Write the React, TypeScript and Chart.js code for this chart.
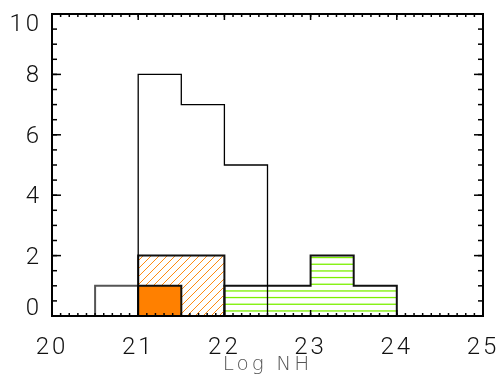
import React, { useEffect, useRef } from 'react';
import { Chart, registerables } from 'chart.js';

Chart.register(...registerables);

// ---- axis ranges & ticks ----
const X_RANGE = [20, 25];
const Y_RANGE = [0, 10];
const X_MAJOR_STEP = 1;
const X_MINOR_STEP = 0.1;
const Y_MAJOR_STEP = 2;
const Y_MINOR_STEP = 0.5;
const X_TITLE = 'Log NH';

// ---- histogram series: bin edges and counts ----
const totalEdges = [21.0, 21.5, 22.0, 22.5];
const totalCounts = [8, 7, 5];

const grayEdges = [20.5, 21.0];
const grayCounts = [1];

const orangeHatchEdges = [21.0, 21.5, 22.0];
const orangeHatchCounts = [2, 2];

const orangeSolidEdges = [21.0, 21.5];
const orangeSolidCounts = [1];

const greenEdges = [22.0, 22.5, 23.0, 23.5, 24.0];
const greenCounts = [1, 1, 2, 1];

function histPoints(edges: number[], counts: number[]) {
  const pts: { x: number; y: number }[] = [{ x: edges[0], y: 0 }];
  counts.forEach((c, i) => {
    pts.push({ x: edges[i], y: c });
    pts.push({ x: edges[i + 1], y: c });
  });
  pts.push({ x: edges[edges.length - 1], y: 0 });
  return pts;
}

function tickValues(range: number[], step: number) {
  const out: number[] = [];
  const n = Math.round((range[1] - range[0]) / step);
  for (let i = 0; i <= n; i++) out.push(range[0] + i * step);
  return out;
}

function diagPattern(): CanvasPattern | string {
  const c = document.createElement('canvas');
  c.width = 8;
  c.height = 8;
  const g = c.getContext('2d');
  if (!g) return '#ff8000';
  g.strokeStyle = '#ff8a10';
  g.lineWidth = 1;
  for (const k of [-1, 7, 15]) {
    g.beginPath();
    g.moveTo(-2, k + 2);
    g.lineTo(k + 2, -2);
    g.stroke();
  }
  return g.createPattern(c, 'repeat') || '#ff8000';
}

function horizPattern(): CanvasPattern | string {
  const c = document.createElement('canvas');
  c.width = 4;
  c.height = 20;
  const g = c.getContext('2d');
  if (!g) return '#80ff00';
  g.fillStyle = '#7cf000';
  for (const y of [3.6, 10.3, 16.9]) {
    g.fillRect(0, y, 4, 1.3);
  }
  return g.createPattern(c, 'repeat') || '#80ff00';
}

const FONT = 'Roboto, "Liberation Sans", Arial, sans-serif';
const TITLE_FONT = '"DejaVu Sans", Roboto, sans-serif';

function zeroPad(s: any) {
  s.paddingLeft = 0;
  s.paddingRight = 0;
  s.paddingTop = 0;
  s.paddingBottom = 0;
}

// IDL-style box frame with inward major/minor ticks on all four sides
const frameTicks = {
  id: 'frameTicks',
  beforeDraw(chart: any) {
    try { chart.ctx.letterSpacing = '3px'; } catch (e) { /* ignore */ }
  },
  afterDatasetsDraw(chart: any) {
    const { ctx, chartArea: a, scales } = chart;
    const xs = scales.x;
    const ys = scales.y;
    const seg = (x1: number, y1: number, x2: number, y2: number) => {
      ctx.beginPath();
      ctx.moveTo(x1, y1);
      ctx.lineTo(x2, y2);
      ctx.stroke();
    };
    ctx.save();
    ctx.strokeStyle = '#000';
    ctx.lineWidth = 1.5;
    const xTick = (v: number, len: number) => {
      const px = xs.getPixelForValue(v);
      seg(px, a.bottom, px, a.bottom - len);
      seg(px, a.top, px, a.top + len);
    };
    const yTick = (v: number, len: number) => {
      const py = ys.getPixelForValue(v);
      seg(a.left, py, a.left + len, py);
      seg(a.right, py, a.right - len, py);
    };
    tickValues(X_RANGE, X_MINOR_STEP).forEach((v) => xTick(v, 3));
    tickValues(X_RANGE, X_MAJOR_STEP).forEach((v) => xTick(v, 6));
    tickValues(Y_RANGE, Y_MINOR_STEP).forEach((v) => yTick(v, 5));
    tickValues(Y_RANGE, Y_MAJOR_STEP).forEach((v) => yTick(v, 9));
    ctx.lineWidth = 2;
    ctx.strokeRect(a.left, a.top, a.right - a.left, a.bottom - a.top);
    ctx.restore();
  },
  afterDraw(chart: any) {
    try { chart.ctx.letterSpacing = '0px'; } catch (e) { /* ignore */ }
  },
};

export default function App() {
  const ref = useRef<HTMLCanvasElement>(null);

  useEffect(() => {
    if (!ref.current) return;
    const chart = new Chart(ref.current, {
      type: 'line',
      data: {
        datasets: [
          {
            data: histPoints(totalEdges, totalCounts),
            borderColor: '#000',
            borderWidth: 1.3,
            fill: false,
            pointRadius: 0,
            order: 0,
          },
          {
            data: histPoints(orangeSolidEdges, orangeSolidCounts),
            borderColor: '#111',
            borderWidth: 2,
            backgroundColor: '#ff8000',
            fill: 'origin',
            pointRadius: 0,
            order: 1,
          },
          {
            data: histPoints(orangeHatchEdges, orangeHatchCounts),
            borderColor: '#111',
            borderWidth: 2,
            backgroundColor: diagPattern() as any,
            fill: 'origin',
            pointRadius: 0,
            order: 2,
          },
          {
            data: histPoints(greenEdges, greenCounts),
            borderColor: '#111',
            borderWidth: 2,
            backgroundColor: horizPattern() as any,
            fill: 'origin',
            pointRadius: 0,
            order: 3,
          },
          {
            data: histPoints(grayEdges, grayCounts),
            borderColor: '#555',
            borderWidth: 2,
            fill: false,
            pointRadius: 0,
            order: 4,
          },
        ] as any,
      },
      plugins: [frameTicks],
      options: {
        responsive: false,
        animation: false,
        events: [],
        layout: { autoPadding: false, padding: { left: 0, top: 14, right: 21, bottom: 0 } },
        elements: { line: { tension: 0, borderJoinStyle: 'miter', borderCapStyle: 'butt' } },
        plugins: { legend: { display: false }, tooltip: { enabled: false } },
        scales: {
          x: {
            type: 'linear',
            position: 'bottom',
            min: X_RANGE[0],
            max: X_RANGE[1],
            ticks: {
              stepSize: X_MAJOR_STEP,
              autoSkip: false,
              maxRotation: 0,
              padding: 18,
              color: '#111',
              font: { family: FONT, size: 24, weight: 300 },
            },
            grid: { display: false, drawTicks: false },
            border: { display: false },
            title: {
              display: true,
              text: X_TITLE,
              color: '#555',
              font: { family: TITLE_FONT, size: 20, weight: 300 },
              padding: { top: 0, bottom: 15 },
            },
            afterFit: (s: any) => {
              s.height = 76;
              zeroPad(s);
            },
          },
          y: {
            type: 'linear',
            position: 'left',
            min: Y_RANGE[0],
            max: Y_RANGE[1],
            ticks: {
              stepSize: Y_MAJOR_STEP,
              autoSkip: false,
              padding: 10,
              labelOffset: 2,
              color: '#111',
              font: { family: FONT, size: 24, weight: 300, lineHeight: 0.71 },
              callback: (v: any) => {
                if (v === Y_RANGE[1]) return ['', String(v)];
                if (v === Y_RANGE[0]) return [String(v), ''];
                return String(v);
              },
            },
            grid: { display: false, drawTicks: false },
            border: { display: false },
            afterFit: (s: any) => {
              s.width = 52;
              zeroPad(s);
            },
          },
        } as any,
      },
    });
    return () => chart.destroy();
  }, []);

  return (
    <div style={{ position: 'absolute', left: 0, top: 0, width: 504, height: 392, background: '#fff' }}>
      <canvas ref={ref} width={504} height={392} />
    </div>
  );
}
